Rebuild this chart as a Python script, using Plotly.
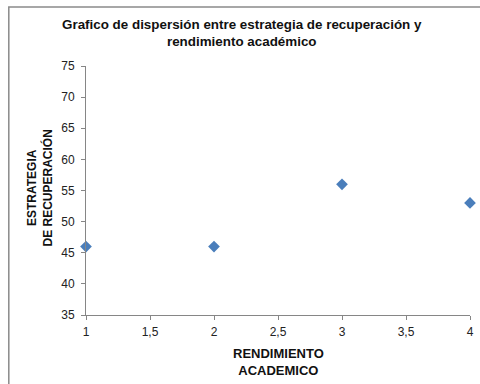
import plotly.graph_objects as go

x_vals = [1, 2, 3, 4]
y_vals = [46, 46, 56, 53]
x_ticks = [1, 1.5, 2, 2.5, 3, 3.5, 4]
x_tick_labels = ["1", "1,5", "2", "2,5", "3", "3,5", "4"]
y_ticks = [35, 40, 45, 50, 55, 60, 65, 70, 75]

W, H = 480, 384
ml, mr, mt, mb = 86, 6, 66, 69
pw, ph = W - ml - mr, H - mt - mb

def px(x):
    return (x - ml) / pw

def py(y):
    return (H - mb - y) / ph

FONT = "Liberation Sans, Arial"

fig = go.Figure()
fig.add_trace(go.Scatter(
    x=x_vals, y=y_vals, mode="markers",
    marker=dict(symbol="diamond", size=9, color="#4a7ebb", line=dict(width=0)),
    cliponaxis=False, showlegend=False,
))

axis_common = dict(
    showgrid=False, zeroline=False, showline=True, linecolor="#868686", linewidth=1,
    ticks="outside", ticklen=4, tickcolor="#868686",
    tickfont=dict(family=FONT, size=12, color="#222"),
)
fig.update_xaxes(range=[1, 4], tickvals=x_ticks, ticktext=x_tick_labels,
                 ticklabelstandoff=2, **axis_common)
fig.update_yaxes(range=[35, 75], tickvals=y_ticks, ticklabelstandoff=4, **axis_common)

fig.add_shape(type="rect", xref="paper", yref="paper",
              x0=px(8), x1=px(490), y0=py(395), y1=py(7),
              line=dict(color="#8a8a8a", width=1.5), fillcolor="rgba(0,0,0,0)", layer="below")

fig.add_annotation(text="<b>Grafico de dispersión entre estrategia de recuperación y<br>rendimiento académico</b>",
                   xref="paper", yref="paper", x=px(244), y=py(33), showarrow=False,
                   font=dict(family=FONT, size=13.4, color="#111"),
                   xanchor="center", yanchor="middle", align="center")
fig.add_annotation(text="<b>RENDIMIENTO<br>ACADEMICO</b>",
                   xref="paper", yref="paper", x=px(280), y=py(362), showarrow=False,
                   font=dict(family=FONT, size=13, color="#111"),
                   xanchor="center", yanchor="middle", align="center")
fig.add_annotation(text="<b>ESTRATEGIA<br>DE RECUPERACIÓN</b>",
                   xref="paper", yref="paper", x=px(40), y=py(188), showarrow=False,
                   textangle=-90,
                   font=dict(family=FONT, size=12, color="#111"),
                   xanchor="center", yanchor="middle", align="center")

fig.update_layout(
    width=W, height=H, margin=dict(l=ml, r=mr, t=mt, b=mb),
    paper_bgcolor="white", plot_bgcolor="white",
)
fig.write_html("out.html", config={"displayModeBar": False})

with open("out.html", "r", encoding="utf-8") as f:
    html = f.read()
html = html.replace("<head>", "<head><style>html,body{margin:0;padding:0;overflow:hidden;}</style>", 1)
with open("out.html", "w", encoding="utf-8") as f:
    f.write(html)
